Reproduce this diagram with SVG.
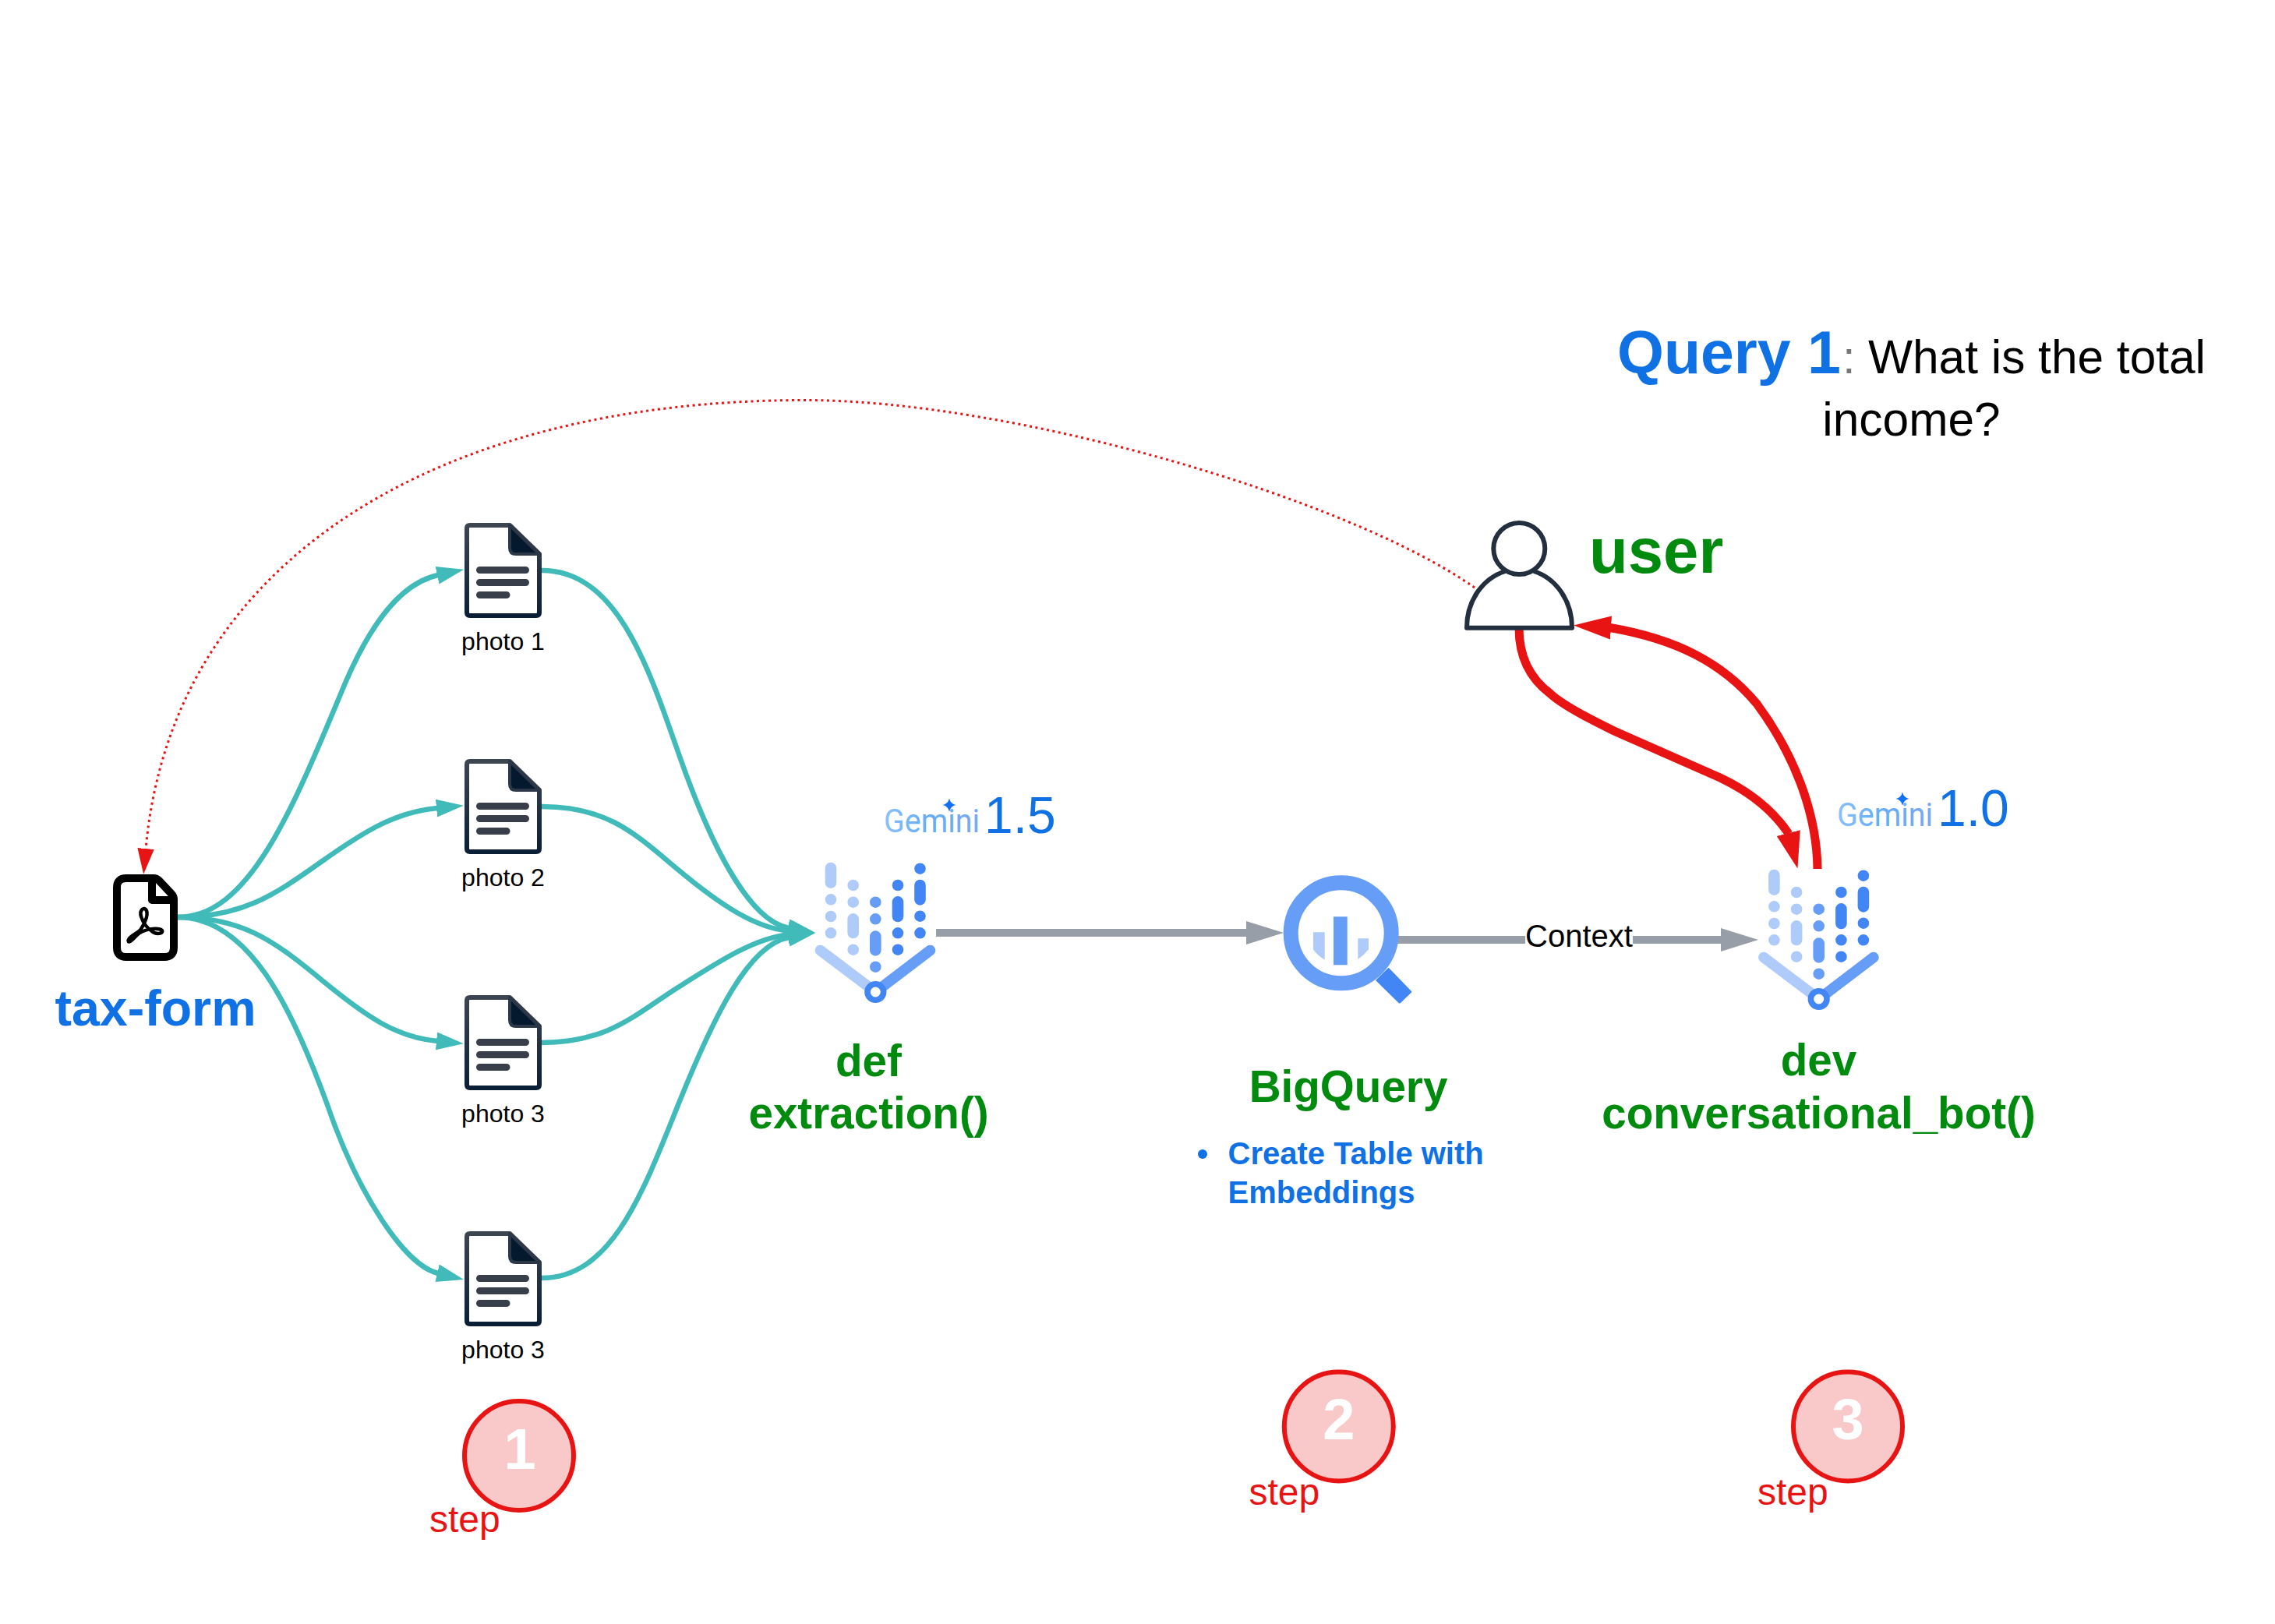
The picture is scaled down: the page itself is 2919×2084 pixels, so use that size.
<svg xmlns="http://www.w3.org/2000/svg" width="2919" height="2084" viewBox="0 0 2919 2084">
<style>
text{font-family:"Liberation Sans",Arial,sans-serif}
.bold{font-weight:700}
.green{fill:#008a0e;font-weight:700;font-size:56.600px;text-anchor:middle}
.blue{fill:#1071e5}
.photo{font-size:32px;text-anchor:middle;fill:#000}
.step{font-size:48px;fill:#e81313}
.num{font-size:74px;font-weight:700;fill:#fff;text-anchor:middle}
.badge{fill:#f9c9c9;stroke:#e81313;stroke-width:6}
.teal{fill:none;stroke:#41bbb9;stroke-width:6.500}
.gray{fill:none;stroke:#979ea8;stroke-width:10}
.red{fill:none;stroke:#e81313;stroke-width:11}
.dot{fill:none;stroke:#e81313;stroke-width:3;stroke-dasharray:3 4.5}
.gem{font-family:Roboto,sans-serif;font-size:42px;font-weight:400;fill:url(#gemGrad)}
.ver{font-size:66px;fill:#1071e5}
.l{fill:none;stroke:#aecbfa;stroke-width:14.600;stroke-linecap:round}
.m{fill:none;stroke:#669df6;stroke-width:14.600;stroke-linecap:round}
.d{fill:none;stroke:#4285f4;stroke-width:14.600;stroke-linecap:round}
</style>
<defs>
<linearGradient id="gemGrad" x1="0" x2="1" y1="0" y2="0"><stop offset="0" stop-color="#8cc0fb"/><stop offset=".45" stop-color="#62aef7"/><stop offset="1" stop-color="#7ba8f2"/></linearGradient>
<linearGradient id="docGrad" x1="0" x2="0" y1="0" y2="1"><stop offset="0" stop-color="#3d4551"/><stop offset="1" stop-color="#0a1f36"/></linearGradient>
<marker id="aTeal" markerUnits="userSpaceOnUse" markerWidth="38" markerHeight="26" refX="1" refY="13" orient="auto"><path d="M0 1.500L35 13L0 24.500Z" fill="#41bbb9"/></marker>
<marker id="aGray" markerUnits="userSpaceOnUse" markerWidth="50" markerHeight="32" refX="1" refY="16" orient="auto"><path d="M0 1L48 16L0 31Z" fill="#979ea8"/></marker>
<marker id="aRedDown" markerUnits="userSpaceOnUse" markerWidth="50" markerHeight="34" refX="1" refY="17" orient="75.6"><path d="M0 1.500L47 17L0 32.500Z" fill="#e81313"/></marker>
<marker id="aRedLeft" markerUnits="userSpaceOnUse" markerWidth="50" markerHeight="34" refX="1" refY="17" orient="183.7"><path d="M0 2L48 17L0 32Z" fill="#e81313"/></marker>
<marker id="aDot" markerUnits="userSpaceOnUse" markerWidth="34" markerHeight="24" refX="1" refY="12" orient="auto"><path d="M0 1.300L33 12L0 22.700Z" fill="#e81313"/></marker>
<g id="doc">
<path d="M7 3H58L96 40V115Q96 119 92 119H7Q3 119 3 115V7Q3 3 7 3Z" fill="#fff" stroke="url(#docGrad)" stroke-width="6" stroke-linejoin="round"/>
<path d="M58 3L96 40H66Q58 40 58 32Z" fill="#04192e" stroke="#2c3848" stroke-width="4" stroke-linejoin="round"/>
<path d="M19.500 60.500H78.500M19.500 76.500H78.500M19.500 92.500H54" fill="none" stroke="#393f4a" stroke-width="9" stroke-linecap="round"/>
</g>
<g id="viz">
<path class="l" d="M1066 1114V1132.700M1066 1154.300h.01M1066 1176h.01M1066 1197.300h.01M1094.700 1136h.01M1094.700 1157.700h.01M1094.700 1179.300V1197M1094.700 1218.700h.01"/>
<path class="m" d="M1123.300 1157.700h.01M1123.300 1179.300h.01M1123.300 1201.600V1219.400M1123.300 1240.700h.01"/>
<path class="d" d="M1152 1136h.01M1152 1157.300V1176M1152 1197.300h.01M1152 1218.700h.01M1180.500 1114.700h.01M1180.500 1136V1154.400M1180.500 1175.700h.01M1180.500 1197.300h.01"/>
<path d="M1052.500 1219.500L1123.300 1273" fill="none" stroke="#aecbfa" stroke-width="13.600" stroke-linecap="round"/>
<path d="M1193.500 1219.500L1123.300 1273" fill="none" stroke="#669df6" stroke-width="13.600" stroke-linecap="round"/>
<circle cx="1123.300" cy="1273" r="10.300" fill="#fff" stroke="#4285f4" stroke-width="7.600"/>
</g>
<path id="star" d="M0 -8.500Q1.500 -1.500 8.500 0Q1.500 1.500 0 8.500Q-1.500 1.500 -8.500 0Q-1.500 -1.500 0 -8.500Z" fill="#0f6ff5"/>
</defs>
<rect width="2919" height="2084" fill="#fff"/>

<g id="connectors">
<path class="dot" marker-end="url(#aDot)" d="M1892 754C1730 640 1300 513.500 1033 513.500C560 513.500 220 720 187 1090"/>
<path class="teal" marker-end="url(#aTeal)" d="M228 1177C320 1177 375 1040 444 874C485 780 525 746 562 738"/>
<path class="teal" marker-end="url(#aTeal)" d="M228 1177C310 1177 350 1150 412 1106C474 1062 510 1042 561 1037"/>
<path class="teal" marker-end="url(#aTeal)" d="M228 1177C310 1177 350 1206 412 1257C474 1308 510 1331 561 1336"/>
<path class="teal" marker-end="url(#aTeal)" d="M228 1177C320 1177 375 1295 419 1415C460 1535 520 1624 562 1634"/>
<path class="teal" d="M695 732C790 732 830 850 870 965C910 1080 960 1182 1012.500 1191" marker-end="url(#aTeal)"/>
<path class="teal" d="M695 1035C780 1035 815 1070 870 1116C925 1162 970 1191 1012 1194.600" marker-end="url(#aTeal)"/>
<path class="teal" d="M695 1338C780 1338 815 1302 870 1267C925 1232 970 1203 1012 1199.400" marker-end="url(#aTeal)"/>
<path class="teal" d="M695 1640C785 1640 825 1530 870 1418C915 1306 960 1212 1012.500 1203" marker-end="url(#aTeal)"/>
<path class="gray" marker-end="url(#aGray)" d="M1201 1197H1600"/>
<path class="gray" marker-end="url(#aGray)" d="M1793 1206H2209"/>
<rect x="1957" y="1180" width="138" height="46" fill="#fff"/>
<text x="2026" y="1214.500" font-size="40" text-anchor="middle" fill="#000">Context</text>
<path class="red" marker-end="url(#aRedDown)" d="M1949 806C1949 845 1965 872 1989 890C2005 905 2040 923 2071 938L2207 998C2245 1016 2275 1040 2295 1070"/>
<path class="red" marker-end="url(#aRedLeft)" d="M2332 1115C2331 1040 2300 965 2254 903C2210 850 2150 820 2066 805.500"/>
</g>

<g id="node-tax-form">
<path d="M162 1127H197Q201 1127 204 1130L220 1147Q223 1150 223 1154V1216Q223 1228 211 1228H162Q150 1228 150 1216V1139Q150 1127 162 1127Z" fill="#fff" stroke="#000" stroke-width="10" stroke-linejoin="round"/>
<path d="M195 1127V1155H222" fill="none" stroke="#000" stroke-width="10" stroke-linejoin="round"/>
<path d="M164.500 1207C166 1200 176 1199 181 1192C187 1183 191 1172 187 1167C183 1164 179 1169 181 1176C184 1186 190 1192 196 1196C203 1200 210 1197 208 1194C205 1191 190 1190 178 1198C172 1203 165 1212 164.500 1207Z" fill="none" stroke="#000" stroke-width="4.500"/>
<text class="bold blue" x="70.500" y="1316" font-size="64.500">tax-form</text>
</g>

<g id="node-photo-1"><use href="#doc" x="596" y="671"/><text class="photo" x="645.500" y="834">photo 1</text></g>
<g id="node-photo-2"><use href="#doc" x="596" y="974"/><text class="photo" x="645.500" y="1137">photo 2</text></g>
<g id="node-photo-3a"><use href="#doc" x="596" y="1277"/><text class="photo" x="645.500" y="1440">photo 3</text></g>
<g id="node-photo-3b"><use href="#doc" x="596" y="1580"/><text class="photo" x="645.500" y="1743">photo 3</text></g>

<g id="node-extraction">
<use href="#viz"/>
<text class="gem" x="1134" y="1068" textLength="123" lengthAdjust="spacingAndGlyphs">Gemini</text>
<use href="#star" x="1218" y="1033"/>
<text class="ver" x="1263" y="1068.500">1.5</text>
<text class="green" x="1114.500" y="1380.500">def</text>
<text class="green" x="1114.500" y="1448">extraction()</text>
</g>

<g id="node-bigquery">
<path d="M1765 1258L1781.700 1241.700L1810.700 1271.700Q1811.500 1273 1810.500 1274L1797 1287Q1795.500 1288 1794.500 1287Z" fill="#4285f4"/>
<circle cx="1720.700" cy="1197.300" r="64.500" fill="#fff" stroke="#669df6" stroke-width="19"/>
<rect x="1711" y="1176.300" width="17.700" height="62" fill="#669df6"/>
<path d="M1685 1196.300H1699.700V1231.700Q1690 1226 1685 1218.300Z" fill="#aecbfa"/>
<path d="M1742.300 1204.300H1756V1218.300Q1750 1226 1742.300 1231Z" fill="#aecbfa"/>
<text class="green" x="1730" y="1414">BigQuery</text>
<circle cx="1543" cy="1481" r="6" fill="#1071e5"/>
<text class="bold blue" x="1575.500" y="1494" font-size="40">Create Table with</text>
<text class="bold blue" x="1575.500" y="1543.500" font-size="40">Embeddings</text>
</g>

<g id="node-conversational-bot">
<use href="#viz" transform="translate(1210.400 9)"/>
<text class="gem" x="2357" y="1060" textLength="123" lengthAdjust="spacingAndGlyphs">Gemini</text>
<use href="#star" x="2441" y="1025"/>
<text class="ver" x="2486" y="1060">1.0</text>
<text class="green" x="2333.500" y="1380">dev</text>
<text class="green" x="2333.500" y="1448">conversational_bot()</text>
</g>

<g id="node-user">
<path d="M1931.400 733C1903 742 1882 770 1882 805.700H2017C2017 770 1996 742 1968 733" fill="none" stroke="#232f3e" stroke-width="6" stroke-linejoin="round"/>
<circle cx="1949.300" cy="704" r="33" fill="#fff" stroke="#232f3e" stroke-width="6"/>
<text x="2039" y="735" font-size="81.500" font-weight="700" fill="#008a0e">user</text>
</g>

<g id="node-query">
<text x="2075" y="479" font-size="77" font-weight="700" class="blue">Query 1</text>
<text x="2364" y="479" font-size="60" fill="#777">:</text>
<text x="2397" y="479" font-size="60.400" fill="#000">What is the total</text>
<text x="2452.500" y="559" font-size="60.400" fill="#000" text-anchor="middle">income?</text>
</g>

<g id="node-step-1"><circle class="badge" cx="666" cy="1868" r="70"/><text class="num" x="667" y="1885">1</text><text class="step" x="551" y="1965.500">step</text></g>
<g id="node-step-2"><circle class="badge" cx="1717.800" cy="1830.500" r="70"/><text class="num" x="1717.800" y="1847">2</text><text class="step" x="1602.500" y="1930.500">step</text></g>
<g id="node-step-3"><circle class="badge" cx="2371" cy="1830.500" r="70"/><text class="num" x="2371" y="1847">3</text><text class="step" x="2255" y="1930.500">step</text></g>
</svg>
